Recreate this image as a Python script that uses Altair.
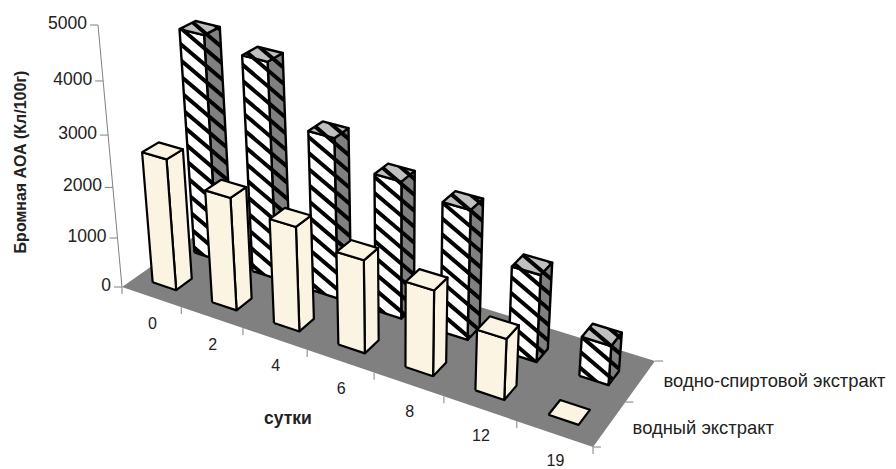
import altair as alt
import numpy as np

# ---- data
days = ["0", "2", "4", "6", "8", "12", "19"]
water = [2600, 2220, 2040, 1800, 1640, 1160, 0]
hydro = [4460, 4260, 3160, 2690, 2520, 1690, 760]
value_ticks = [0, 1000, 2000, 3000, 4000, 5000]
series_labels = ["водный экстракт", "водно-спиртовой экстракт"]
y_title = "Бромная АОА (Кл/100г)"
x_title = "сутки"

# ---- camera: floor corners and vertical vanishing point
FLOOR = [(122, 287), (593, 447), (655, 361), (212, 224)]
K, VX, VY = -1.6e-5, 398.0, 3300.0
n = len(days)


def homography(pts):
    src = [(0, 0), (n, 0), (n, 1), (0, 1)]
    A, b = [], []
    for (u, v), (x, y) in zip(src, pts):
        A.append([u, v, 1, 0, 0, 0, -u * x, -v * x]); b.append(x)
        A.append([0, 0, 0, u, v, 1, -u * y, -v * y]); b.append(y)
    s = np.linalg.solve(np.array(A, float), np.array(b, float))
    return np.append(s, 1.0).reshape(3, 3)


H = homography(FLOOR)


def proj(u, v, h=0.0):
    p = H @ np.array([u, v, 1.0]) + h * K * np.array([VX, VY, 1.0])
    return float(p[0] / p[2]), float(p[1] / p[2])


def clip(poly, a, b, c):
    """keep a*x + b*y <= c"""
    out = []
    for i in range(len(poly)):
        p, q = poly[i], poly[(i + 1) % len(poly)]
        fp, fq = a * p[0] + b * p[1] - c, a * q[0] + b * q[1] - c
        if fp <= 0:
            out.append(p)
        if fp * fq < 0:
            t = fp / (fp - fq)
            out.append((p[0] + t * (q[0] - p[0]), p[1] + t * (q[1] - p[1])))
    return out


rows = []
pid = [0]


def add(poly, fill, stroke="transparent", sw=0.0):
    pid[0] += 1
    closed = list(poly) + [poly[0]]
    for o, (x, y) in enumerate(closed):
        rows.append(dict(pid=pid[0], ord=o, x=round(x, 2), y=round(y, 2),
                         fill=fill, stroke=stroke, sw=sw))


SLOPE, PERIOD, BAND = 0.85, 16.0, 5.2


def stripes(poly):
    vals = [p[1] - SLOPE * p[0] for p in poly]
    c = np.floor(min(vals) / PERIOD) * PERIOD
    while c < max(vals):
        piece = clip(clip(poly, SLOPE, -1, -c), -SLOPE, 1, c + BAND)
        if len(piece) >= 3:
            add(piece, "#000000")
        c += PERIOD


BW, BD = 0.40, 0.17
CREAM = "#FCF4E2"


def bar(i, v0, val, hatched):
    u0, u1 = i + 0.48 - BW / 2, i + 0.48 + BW / 2
    v1 = v0 + BD
    side = [proj(u1, v0), proj(u1, v1), proj(u1, v1, val), proj(u1, v0, val)]
    front = [proj(u0, v0), proj(u1, v0), proj(u1, v0, val), proj(u0, v0, val)]
    top = [proj(u0, v0, val), proj(u1, v0, val), proj(u1, v1, val), proj(u0, v1, val)]
    faces = [(side, "#808080"), (front, "#FFFFFF"), (top, "#C0C0C0")] if hatched \
        else [(side, CREAM), (front, CREAM), (top, CREAM)]
    for face, col in faces:
        if val > 0 or face is top:
            add(face, col)
            if hatched:
                stripes(face)
            add(face, "transparent", "#000000", 2.4 if hatched else 2.2)


add([proj(0, 0), proj(n, 0), proj(n, 1), proj(0, 1)], "#808080")
for i, val in enumerate(hydro):
    bar(i, 0.61, val, True)
for i, val in enumerate(water):
    bar(i, 0.15, val, False)

# axes
segs, t_right, t_center, t_left = [], [], [], []
for t in value_ticks:
    x, y = proj(0, 0, t)
    segs.append(dict(x=x - 8, y=y, x2=x, y2=y))
    t_right.append(dict(x=x - 11, y=y - 1, t=str(t)))
x0, y0 = proj(0, 0, 0)
x1, y1 = proj(0, 0, value_ticks[-1])
segs.append(dict(x=x0, y=y0, x2=x1, y2=y1))
for i in range(n + 1):
    x, y = proj(i, 0)
    segs.append(dict(x=x, y=y, x2=x, y2=y + 7))
for v in (0, 0.5, 1):
    x, y = proj(n, v)
    segs.append(dict(x=x, y=y, x2=x + 8, y2=y))
for i, d in enumerate(days):
    x, y = proj(i + 0.5, 0)
    t_center.append(dict(x=x + 1, y=y + 27.5, t=d))
for v, dy, s in zip((0.25, 0.75), (4, 0), series_labels):
    x, y = proj(n, v)
    t_left.append(dict(x=x + 23, y=y + dy, t=s))

X = alt.X("x:Q", axis=None, scale=alt.Scale(domain=[8, 888], nice=False, zero=False))
Y = alt.Y("y:Q", axis=None, scale=alt.Scale(domain=[469, 8], nice=False, zero=False))
FONT = "Liberation Sans"
INK = "#222222"

axis_layer = alt.Chart(alt.Data(values=segs)).mark_rule(color="#808080", strokeWidth=1).encode(
    x=X, y=Y, x2="x2:Q", y2="y2:Q")
poly_layer = alt.Chart(alt.Data(values=rows)).mark_line(strokeJoin="round").encode(
    x=X, y=Y, order="ord:Q", detail="pid:Q",
    fill=alt.Fill("fill:N", scale=None),
    stroke=alt.Stroke("stroke:N", scale=None),
    strokeWidth=alt.StrokeWidth("sw:Q", scale=None))
text_r = alt.Chart(alt.Data(values=t_right)).mark_text(
    align="right", baseline="middle", font=FONT, fontSize=17.5, color=INK).encode(x=X, y=Y, text="t:N")
text_c = alt.Chart(alt.Data(values=t_center)).mark_text(
    align="center", baseline="middle", font=FONT, fontSize=16, color=INK).encode(x=X, y=Y, text="t:N")
text_l = alt.Chart(alt.Data(values=t_left)).mark_text(
    align="left", baseline="middle", font=FONT, fontSize=18.4, color=INK).encode(x=X, y=Y, text="t:N")
title_y = alt.Chart(alt.Data(values=[dict(x=21, y=162, t=y_title)])).mark_text(
    angle=270, align="center", baseline="middle", font=FONT, fontSize=16,
    fontWeight="bold", color=INK).encode(x=X, y=Y, text="t:N")
title_x = alt.Chart(alt.Data(values=[dict(x=288, y=419, t=x_title)])).mark_text(
    align="center", baseline="middle", font=FONT, fontSize=17.5,
    fontWeight="bold", color=INK).encode(x=X, y=Y, text="t:N")

chart = alt.layer(axis_layer, poly_layer, text_r, text_c, text_l, title_y, title_x).properties(
    width=880, height=461, padding=0, autosize=alt.AutoSizeParams(type="none"),
    background="white").configure_view(stroke=None)

chart.save("out.html", embed_options={"renderer": "svg", "actions": False})
